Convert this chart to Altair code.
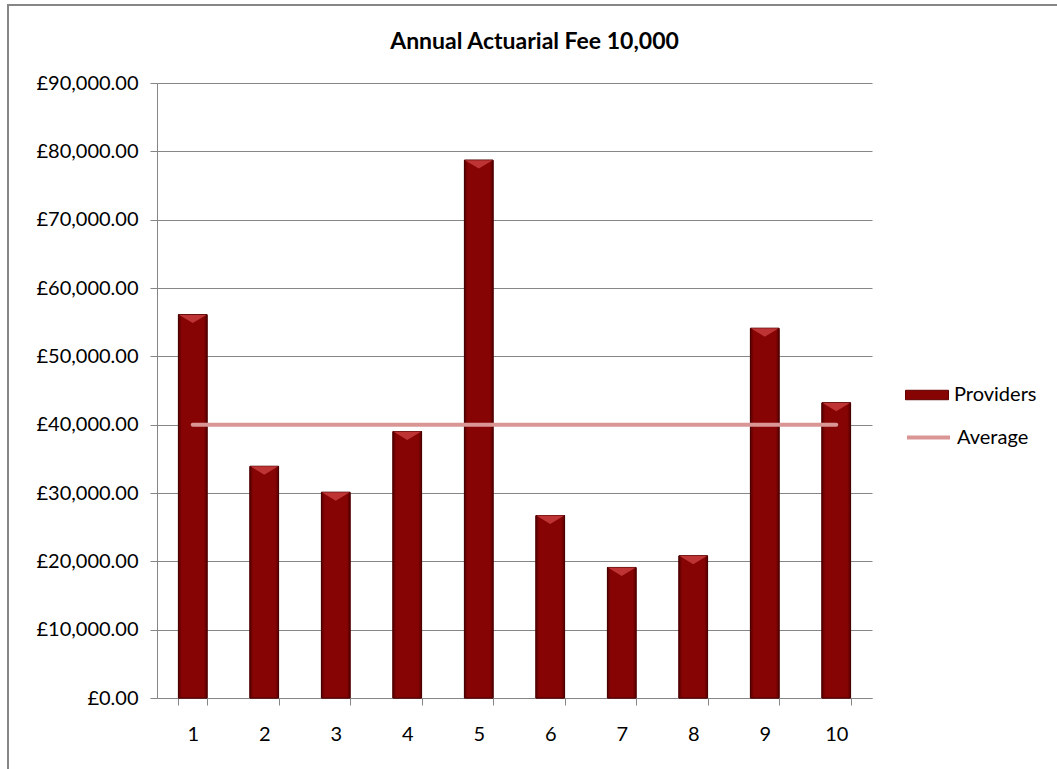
import altair as alt
import pandas as pd

providers = ["1", "2", "3", "4", "5", "6", "7", "8", "9", "10"]
fees = [56100, 33900, 30100, 39000, 78700, 26700, 19100, 20800, 54100, 43200]
average = [40000, 40000, 40000, 40000, 40000, 40000, 40000, 40000, 40000, 40000]
y_ticks = [0, 10000, 20000, 30000, 40000, 50000, 60000, 70000, 80000, 90000]

df = pd.DataFrame({
    "provider": providers,
    "fee": fees,
    "average": average,
    "s1": ["Providers"] * len(providers),
    "s2": ["Average"] * len(providers),
})

FONT = "Lato"
GRAY = "#868686"
FS = 20

x = alt.X(
    "provider:N", sort=providers,
    scale=alt.Scale(paddingInner=0.6, paddingOuter=0.3),
    axis=alt.Axis(title=None, labelAngle=0, tickBand="extent", tickSize=7,
                  labelPadding=19, domainColor=GRAY, tickColor=GRAY,
                  labelFontSize=FS, labelFont=FONT, labelColor="#000000", grid=False),
)
y = alt.Y(
    "fee:Q",
    scale=alt.Scale(domain=[0, 90000], nice=False),
    axis=alt.Axis(values=y_ticks, labelExpr="'£' + format(datum.value, ',.2f')",
                  title=None, tickSize=7, labelPadding=12, grid=True,
                  gridColor=GRAY, domainColor=GRAY, tickColor=GRAY,
                  labelFontSize=FS, labelFont=FONT, labelColor="#000000"),
)

bars = alt.Chart(df).mark_bar(stroke="#5e0000", strokeWidth=1).encode(
    x=x, y=y,
    fill=alt.Fill("s1:N", scale=alt.Scale(domain=["Providers"], range=["#870404"]),
                  legend=alt.Legend(title=None, orient="none", legendX=748, legendY=290,
                                    symbolType="M-1,-0.22H1V0.22H-1Z", symbolSize=1849,
                                    symbolStrokeColor="#5e0000", symbolStrokeWidth=1,
                                    labelFontSize=FS, labelFont=FONT, labelColor="#000000",
                                    labelOffset=5, padding=0)),
)

shade = alt.Chart(df).mark_bar(
    fill=alt.Gradient(
        gradient="linear", x1=0, x2=1, y1=0, y2=0,
        stops=[alt.GradientStop(offset=0, color="#5a0000"),
               alt.GradientStop(offset=0.12, color="#870404"),
               alt.GradientStop(offset=0.88, color="#870404"),
               alt.GradientStop(offset=1, color="#5a0000")]),
    stroke="#4a0000", strokeWidth=1,
).encode(x=x, y=alt.Y("fee:Q"))

caps = alt.Chart(df).mark_point(
    shape="M-1,0L1,0L0,0.6Z", size=784, filled=True, fill="#c43a3a", opacity=0.9,
    strokeWidth=0,
).encode(x=x, y=alt.Y("fee:Q"))

line = alt.Chart(df).mark_line(strokeWidth=4, strokeCap="round").encode(
    x=x,
    y=alt.Y("average:Q"),
    stroke=alt.Stroke("s2:N", scale=alt.Scale(domain=["Average"], range=["#d99694"]),
                      legend=alt.Legend(title=None, orient="none", legendX=748, legendY=331,
                                        symbolType="stroke", symbolSize=1849,
                                        symbolStrokeWidth=4,
                                        labelFontSize=FS, labelFont=FONT, labelColor="#000000",
                                        labelOffset=5, padding=0)),
)

frame_df = pd.DataFrame({"k": [0]})
frame_left = alt.Chart(frame_df).mark_rule(color=GRAY, strokeWidth=2).encode(
    x=alt.value(-149), y=alt.value(-79), y2=alt.value(700))
frame_top = alt.Chart(frame_df).mark_rule(color=GRAY, strokeWidth=2).encode(
    x=alt.value(-150), x2=alt.value(910), y=alt.value(-78))

chart = alt.layer(bars, shade, caps, line, frame_left, frame_top).resolve_legend(
    fill="independent", stroke="independent"
).properties(
    width=715, height=615,
    padding={"left": 157, "top": 83, "right": 185, "bottom": 71},
    autosize=alt.AutoSizeParams(type="none"),
    title=alt.TitleParams("Annual Actuarial Fee 10,000", fontSize=23, font=FONT,
                          fontWeight="bold", anchor="middle", dx=20, offset=-51,
                          color="#000000"),
    background="white",
).configure_view(stroke=None)

chart.save("out.html", embed_options={"renderer": "svg", "actions": False})
